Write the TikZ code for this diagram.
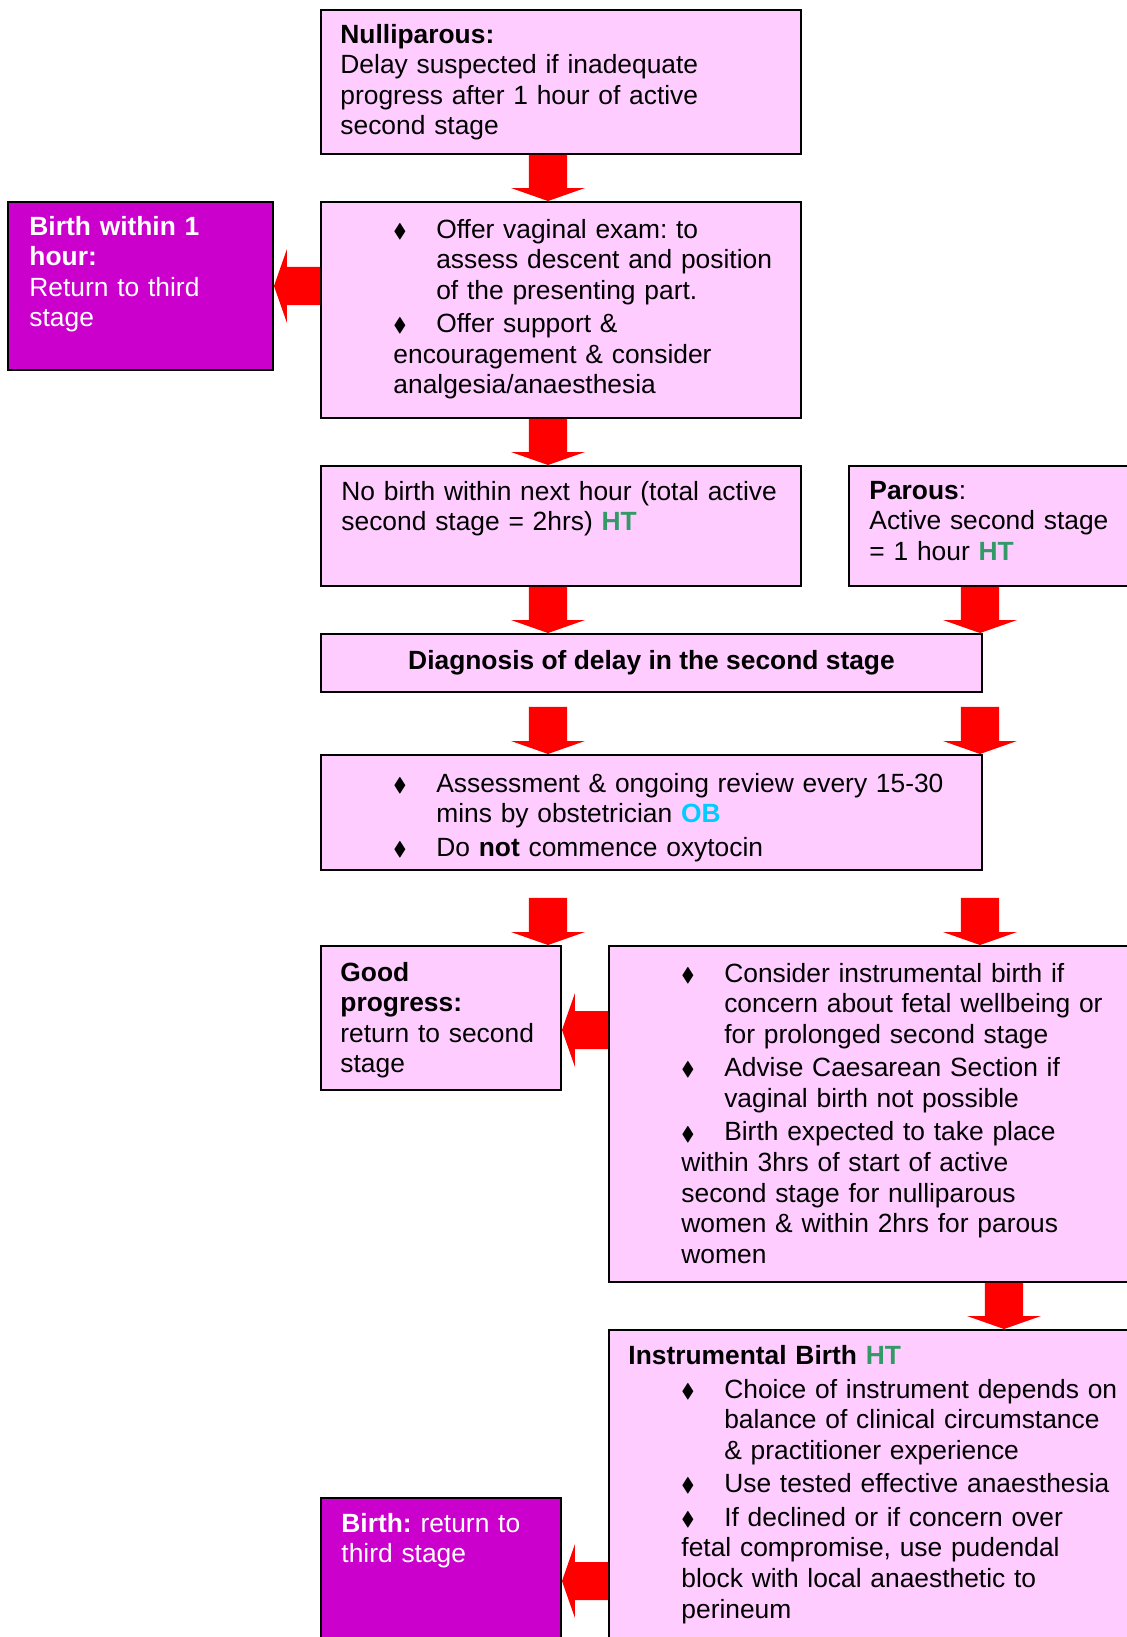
\documentclass[tikz,border=0pt]{standalone}
\usepackage{fontspec}
\usepackage{amssymb}
\setmainfont{Liberation Sans}
\usetikzlibrary{calc}

\definecolor{boxpink}{HTML}{FFCCFF}
\definecolor{boxmagenta}{HTML}{CC00CC}
\definecolor{htgreen}{HTML}{339966}
\definecolor{obblue}{HTML}{00CCFF}

\frenchspacing
\newcommand{\px}{0.455pt}
\newcommand{\dia}{\raisebox{0.4pt}{\scalebox{0.75}{$\blacklozenge$}}}
\newcommand{\bul}{\noindent\hangindent=19.5pt\hangafter=1\makebox[19.5pt][l]{\dia}}
\newcommand{\nbul}{\par\bul}
\newcommand{\HT}{\textcolor{htgreen}{\textbf{HT}}}
\newcommand{\downblk}[2]{\fill[red] let \p1=#1, \p2=#2 in
  (\x1-8.65pt,\y1) -- (\x1+8.65pt,\y1) -- (\x1+8.65pt,\y2+5.9pt) -- (\x1+16.8pt,\y2+5.9pt)
  -- (\x1,\y2) -- (\x1-16.8pt,\y2+5.9pt) -- (\x1-8.65pt,\y2+5.9pt) -- cycle;}
\newcommand{\leftblk}[2]{\fill[red] let \p1=#1, \p2=#2 in
  (\x1,\y1+8.65pt) -- (\x2+5.9pt,\y1+8.65pt) -- (\x2+5.9pt,\y1+16.8pt) -- (\x2,\y1)
  -- (\x2+5.9pt,\y1-16.8pt) -- (\x2+5.9pt,\y1-8.65pt) -- (\x1,\y1-8.65pt) -- cycle;}

\tikzset{
  box/.style={draw, line width=0.9pt, fill=boxpink, anchor=north west, inner sep=0pt},
  endbox/.style={box, fill=boxmagenta},
  txt/.style={anchor=base west, inner sep=0pt, text width=280pt, align=left,
    font=\fontsize{12}{13.9}\selectfont,
    execute at begin node={\setlength{\parskip}{1.4pt}}},
}

\begin{document}
\begin{tikzpicture}[x=\px,y=-\px]
\useasboundingbox (0,0) rectangle (1127,1637);
\clip (0,0) rectangle (1127,1637);
\coordinate (colL) at (548,0);
\coordinate (colR) at (980,0);
\coordinate (colC) at (1004,0);
\coordinate (rowG) at (0,1030);
\coordinate (rowB) at (0,1581);

% boxes
\node[box, minimum width=480*\px, minimum height=144*\px] (nulli) at (320,9) {};
\node[box, minimum width=480*\px, minimum height=216*\px] (offer) at (320,201) {};
\node[endbox, minimum width=265*\px, minimum height=168*\px] (birthA) at (7,201) {};
\node[box, minimum width=480*\px, minimum height=120*\px] (nobirth) at (320,465) {};
\node[box, minimum width=300*\px, minimum height=120*\px] (parous) at (848,465) {};
\node[box, minimum width=661*\px, minimum height=58*\px, font=\fontsize{12}{13.9}\selectfont\bfseries] (diag) at (320,633) {Diagnosis of delay in the second stage};
\node[box, minimum width=661*\px, minimum height=115*\px] (assess) at (320,754) {};
\node[box, minimum width=240*\px, minimum height=144*\px] (good) at (320,945) {};
\node[box, minimum width=540*\px, minimum height=336*\px] (consider) at (608,945) {};
\node[box, minimum width=540*\px, minimum height=340*\px] (instr) at (608,1329) {};
\node[endbox, minimum width=240*\px, minimum height=160*\px] (birthB) at (320,1497) {};

% texts
\node[txt] (nullitxt) at (340,43) {\textbf{Nulliparous:}\\Delay suspected if inadequate\\progress after 1 hour of active\\second stage};
\node[txt] (offertxt) at (393,238) {\bul Offer vaginal exam: to\newline assess descent and position\newline of the presenting part.
  \nbul Offer support \&\newline encouragement \& consider\newline analgesia/anaesthesia};
\node[txt, text=white] (birthAtxt) at (29,235) {\textbf{Birth within 1}\\\textbf{hour:}\\Return to third\\stage};
\node[txt] (nobirthtxt) at (341,500) {No birth within next hour (total active\\second stage = 2hrs) \HT};
\node[txt] (paroustxt) at (869,499) {\textbf{Parous}:\\Active second stage\\= 1 hour \HT};
\node[txt] (assesstxt) at (393,792) {\bul Assessment \& ongoing review every 15-30\newline mins by obstetrician \textcolor{obblue}{\textbf{OB}}
  \nbul Do \textbf{not} commence oxytocin};
\node[txt] (goodtxt) at (340,981) {\textbf{Good}\\\textbf{progress:}\\return to second\\stage};
\node[txt] (considertxt) at (681,982) {\bul Consider instrumental birth if\newline concern about fetal wellbeing or\newline for prolonged second stage
  \nbul Advise Caesarean Section if\newline vaginal birth not possible
  \nbul Birth expected to take place\newline within 3hrs of start of active\newline second stage for nulliparous\newline women \& within 2hrs for parous\newline women};
\node[txt] (instrtitle) at (628,1364) {\textbf{Instrumental Birth} \HT};
\node[txt] (instrtxt) at (681,1398) {\bul Choice of instrument depends on\newline balance of clinical circumstance\newline \& practitioner experience
  \nbul Use tested effective anaesthesia
  \nbul If declined or if concern over\newline fetal compromise, use pudendal\newline block with local anaesthetic to\newline perineum};
\node[txt, text=white] (birthBtxt) at (341,1532) {\textbf{Birth:} return to\\third stage};

% arrows
\downblk{(nulli.south -| colL)}{(offer.north -| colL)}
\downblk{(offer.south -| colL)}{(nobirth.north -| colL)}
\downblk{(nobirth.south -| colL)}{(diag.north -| colL)}
\downblk{(parous.south -| colR)}{(diag.north -| colR)}
\downblk{($(diag.south -| colL)+(0,14)$)}{(assess.north -| colL)}
\downblk{($(diag.south -| colR)+(0,14)$)}{(assess.north -| colR)}
\downblk{($(assess.south -| colL)+(0,27)$)}{(good.north -| colL)}
\downblk{($(assess.south -| colR)+(0,27)$)}{(consider.north -| colR)}
\downblk{(consider.south -| colC)}{(instr.north -| colC)}
\leftblk{(offer.west |- birthA.east)}{(birthA.east)}
\leftblk{(consider.west |- rowG)}{(good.east |- rowG)}
\leftblk{(instr.west |- rowB)}{(birthB.east |- rowB)}
\end{tikzpicture}
\end{document}
